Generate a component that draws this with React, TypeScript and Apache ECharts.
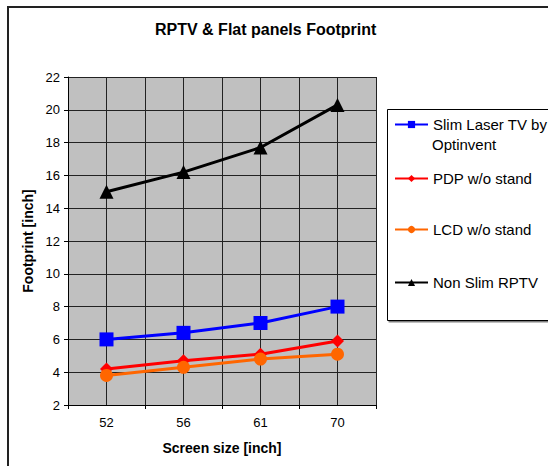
import React, { useEffect, useRef } from "react";
import * as echarts from "echarts";

const categories = ["52", "56", "61", "70"];
const slimLaser = [6.0, 6.4, 7.0, 8.0];
const pdp = [4.2, 4.7, 5.1, 5.9];
const lcd = [3.8, 4.3, 4.8, 5.1];
const nonSlim = [15.0, 16.2, 17.7, 20.3];

const FONT = "'Liberation Sans', Arial, sans-serif";

export default function App() {
  const ref = useRef<HTMLDivElement>(null);
  useEffect(() => {
    if (!ref.current) return;
    const chart = echarts.init(ref.current, undefined, { renderer: "svg" });
    const lineSeries = (name: string, data: number[], color: string, symbol: string, size: number) => ({
      name,
      type: "line",
      data,
      xAxisIndex: 0,
      yAxisIndex: 0,
      symbol,
      symbolSize: size,
      lineStyle: { color, width: 3 },
      itemStyle: { color },
      emphasis: { disabled: true },
    });
    const legendAt = (name: string, top: number) => ({
      show: true,
      data: [name],
      left: 394,
      top,
      padding: 0,
      orient: "vertical",
      itemWidth: 33,
      itemHeight: 9,
      textStyle: { fontSize: 15, color: "#000", fontFamily: FONT },
      selectedMode: false,
      formatter: name === "Slim Laser TV by Optinvent" ? () => "Slim Laser TV by" : undefined,
    });
    chart.setOption({
      animation: false,
      backgroundColor: "#fff",
      title: {
        text: "RPTV & Flat panels Footprint",
        left: 155,
        top: 21,
        padding: 0,
        textStyle: { fontSize: 16, fontWeight: "bold", color: "#000", fontFamily: FONT },
      },
      graphic: [
        {
          type: "rect",
          shape: { x: 8, y: 7, width: 620, height: 600 },
          style: { fill: "none", stroke: "#222", lineWidth: 2 },
          z: -1,
        },
        {
          type: "rect",
          shape: { x: 387.5, y: 109.5, width: 200, height: 211 },
          style: { fill: "#fff", stroke: "#000", lineWidth: 1, shadowColor: "rgba(0,0,0,0.5)", shadowOffsetY: 1.5, shadowOffsetX: 1.5, shadowBlur: 0 },
          z: 0,
        },
        {
          type: "text",
          x: 432,
          y: 144,
          style: { text: "Optinvent", fontSize: 15, fill: "#000", fontFamily: FONT, verticalAlign: "middle" },
          z: 10,
        },
      ],
      legend: [
        legendAt("Slim Laser TV by Optinvent", 117),
        legendAt("PDP w/o stand", 171),
        legendAt("LCD w/o stand", 222),
        legendAt("Non Slim RPTV", 275),
      ],
      grid: {
        left: 68,
        top: 77,
        right: 172,
        bottom: 61,
        show: true,
        backgroundColor: "#C0C0C0",
        borderWidth: 0,
      },
      xAxis: [
        {
          type: "category",
          data: categories,
          boundaryGap: true,
          name: "Screen size [inch]",
          nameLocation: "middle",
          nameGap: 36,
          nameTextStyle: { fontSize: 14, fontWeight: "bold", color: "#000", fontFamily: FONT },
          axisLine: { lineStyle: { color: "#000", width: 1 } },
          axisTick: { show: true, length: 4, lineStyle: { color: "#000" } },
          axisLabel: { fontSize: 13, color: "#000", fontFamily: FONT, margin: 11 },
          splitLine: { show: false },
        },
        {
          type: "value",
          min: 0,
          max: 8,
          interval: 1,
          position: "bottom",
          show: true,
          axisLine: { show: false },
          axisTick: { show: false },
          axisLabel: { show: false },
          splitLine: { show: true, lineStyle: { color: "#222", width: 1 } },
        },
      ],
      yAxis: {
        type: "value",
        min: 2,
        max: 22,
        interval: 2,
        name: "Footprint [inch]",
        nameLocation: "middle",
        nameGap: 32,
        nameRotate: 90,
        nameTextStyle: { fontSize: 14, fontWeight: "bold", color: "#000", fontFamily: FONT },
        axisLine: { show: true, lineStyle: { color: "#000", width: 1 } },
        axisTick: { show: true, length: 4, lineStyle: { color: "#000" } },
        axisLabel: { fontSize: 13, color: "#000", fontFamily: FONT, margin: 8 },
        splitLine: { show: true, lineStyle: { color: "#222", width: 1 } },
      },
      series: [
        lineSeries("Slim Laser TV by Optinvent", slimLaser, "#0000FF", "rect", 14),
        lineSeries("PDP w/o stand", pdp, "#FF0000", "diamond", 13),
        lineSeries("LCD w/o stand", lcd, "#FF6600", "circle", 13),
        lineSeries("Non Slim RPTV", nonSlim, "#000000", "triangle", 14),
      ],
    });
    return () => chart.dispose();
  }, []);
  return (
    <div
      ref={ref}
      style={{ position: "absolute", left: 0, top: 0, width: 548, height: 466 }}
    />
  );
}
